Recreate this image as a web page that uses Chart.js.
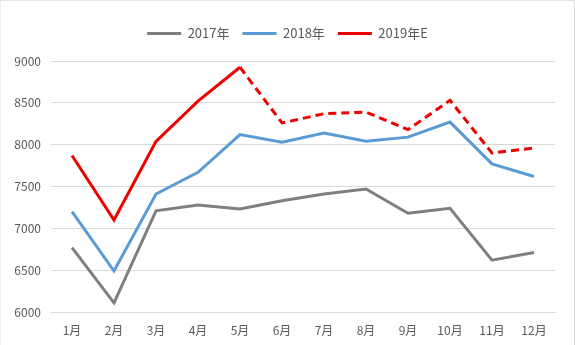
<!DOCTYPE html>
<html>
<head>
<meta charset="utf-8">
<script src="https://cdn.jsdelivr.net/npm/chart.js@4/dist/chart.umd.min.js"></script>
<style>
  html, body { margin: 0; padding: 0; background: #ffffff; }
  #frame {
    position: relative;
    width: 573px; height: 344px;
    border-top: 1px solid #e3e3e3;
    border-left: 1px solid #eeeeee;
    border-right: 1px solid #d9d9d9;
    overflow: hidden;
  }
  canvas { display: block; }
</style>
</head>
<body>
<div id="frame"><canvas id="c" width="573" height="344"></canvas></div>
<script>
// Monthly categories
const months = ['1月', '2月', '3月', '4月', '5月', '6月', '7月', '8月', '9月', '10月', '11月', '12月'];

// Series values
const values2017 = [6770, 6110, 7210, 7280, 7230, 7330, 7410, 7470, 7180, 7240, 6620, 6710];
const values2018 = [7200, 6490, 7410, 7670, 8120, 8030, 8140, 8040, 8090, 8270, 7770, 7620];
const values2019E = [7870, 7100, 8040, 8520, 8925, 8260, 8370, 8390, 8180, 8530, 7900, 7960];

// Series names
const seriesNames = ['2017年', '2018年', '2019年E'];

// Y-axis tick range
const yMin = 6000, yMax = 9000, yStep = 500;

// Index from which the 2019 line is an estimate (drawn dashed)
const estimateFrom = 4;

const font = { family: "'Noto Sans CJK SC', 'Liberation Sans', sans-serif", size: 12 };
const legendFont = { family: "'Noto Sans CJK SC', 'Liberation Sans', sans-serif", size: 13 };
const textColor = '#595959';

// Adds extra room below the legend row and centres it on the whole canvas
const legendGap = {
  id: 'legendGap',
  afterInit(chart) {
    const legend = chart.legend;
    const fit = legend.fit;
    legend.fit = function () { fit.call(this); this.height += 11; };
  },
  afterLayout(chart) {
    const legend = chart.legend;
    const shift = (chart.width - legend.right - legend.left) / 2;
    legend.left += shift;
    legend.right += shift;
  }
};

new Chart(document.getElementById('c'), {
  type: 'line',
  data: {
    labels: months,
    datasets: [
      { label: seriesNames[0], data: values2017, borderColor: '#7f7f7f', backgroundColor: '#7f7f7f', borderWidth: 3 },
      { label: seriesNames[1], data: values2018, borderColor: '#5b9bd5', backgroundColor: '#5b9bd5', borderWidth: 3 },
      {
        label: seriesNames[2], data: values2019E, borderColor: '#ee0000', backgroundColor: '#ee0000', borderWidth: 3,
        segment: { borderDash: ctx => ctx.p0DataIndex >= estimateFrom ? [8, 5] : undefined }
      }
    ]
  },
  plugins: [legendGap],
  options: {
    responsive: false,
    animation: false,
    layout: { padding: { top: 13, right: 19, bottom: 7, left: 0 } },
    elements: {
      point: { radius: 0, hoverRadius: 0 },
      line: { tension: 0, borderCapStyle: 'butt', borderJoinStyle: 'miter' }
    },
    plugins: {
      tooltip: { enabled: false },
      legend: {
        position: 'top',
        labels: {
          usePointStyle: true,
          pointStyle: 'line',
          pointStyleWidth: 34,
          boxHeight: 13,
          padding: 13,
          color: textColor,
          font: legendFont
        }
      }
    },
    scales: {
      x: {
        offset: true,
        afterFit: s => { s.height = 26; },
        grid: { display: false, drawTicks: false },
        border: { display: true, color: '#d9d9d9' },
        ticks: { color: textColor, font: font, padding: 11, maxRotation: 0, autoSkip: false }
      },
      y: {
        min: yMin, max: yMax,
        afterFit: s => { s.width = 50; },
        grid: { color: '#d9d9d9', lineWidth: 1, drawTicks: false },
        border: { display: false },
        ticks: { stepSize: yStep, color: textColor, font: font, padding: 10, callback: v => String(v) }
      }
    }
  }
});
</script>
</body>
</html>
